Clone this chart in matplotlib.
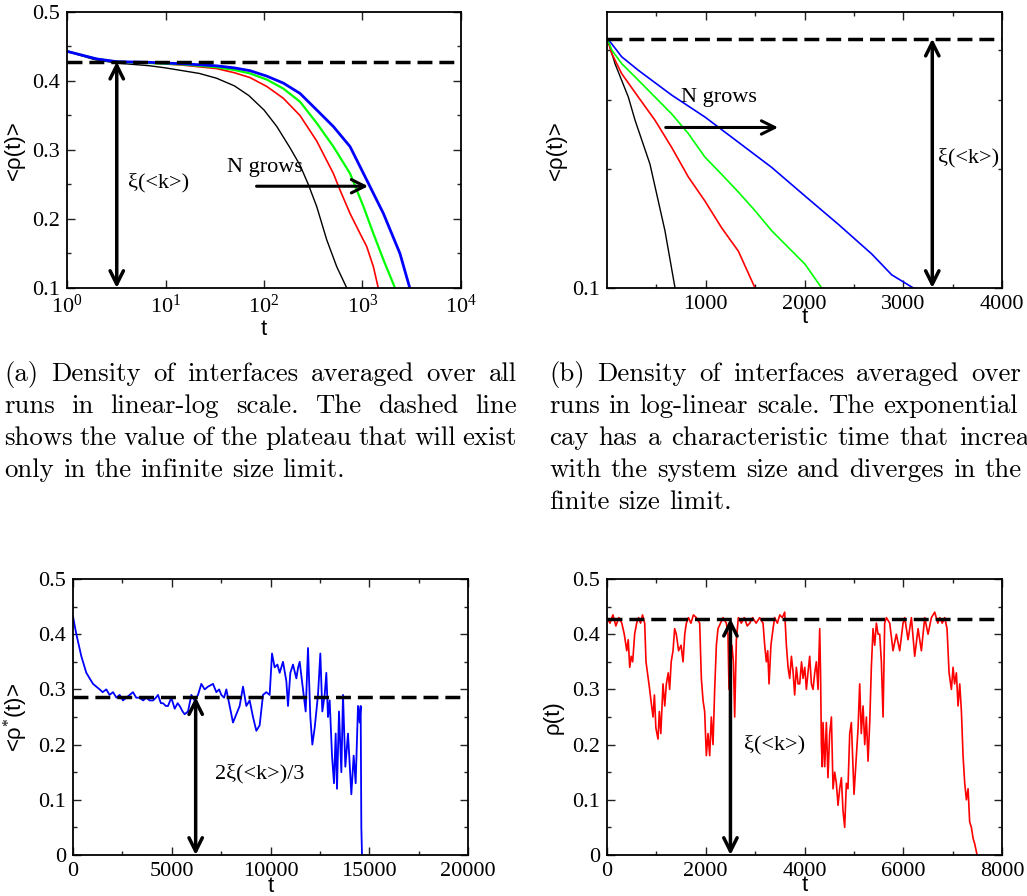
import matplotlib
matplotlib.use('Agg')
import matplotlib.pyplot as plt
from matplotlib.ticker import FixedLocator, NullFormatter, FixedFormatter, MultipleLocator, NullLocator, FuncFormatter

plt.rcParams['font.family'] = 'Liberation Serif'
plt.rcParams['mathtext.fontset'] = 'custom'
plt.rcParams['mathtext.rm'] = 'Liberation Serif'
plt.rcParams['mathtext.it'] = 'Liberation Serif:italic'
plt.rcParams['mathtext.sf'] = 'Liberation Sans'

# ---------------- data (a): averaged density, linear-log view ----------------
ta_black = [1, 1.9, 3.2, 7, 10, 22, 33, 50, 70, 100, 135, 184, 232, 282, 343, 433, 547, 692]
ra_black = [0.443, 0.431, 0.426, 0.422, 0.419, 0.411, 0.404, 0.393, 0.379, 0.358, 0.334, 0.303, 0.278, 0.250, 0.218, 0.170, 0.131, 0.1]

ta_red = [1, 2, 3.2, 7, 15, 33, 50, 72, 107, 157, 232, 343, 506, 591, 747, 944, 1104, 1289, 1446]
ra_red = [0.443, 0.432, 0.428, 0.426, 0.423, 0.418, 0.412, 0.405, 0.392, 0.375, 0.350, 0.313, 0.266, 0.242, 0.208, 0.179, 0.160, 0.131, 0.1]

ta_green = [1, 2, 3.2, 7, 15, 33, 50, 72, 107, 157, 232, 343, 506, 747, 1023, 1289, 1630, 2138]
ra_green = [0.443, 0.432, 0.428, 0.426, 0.424, 0.420, 0.416, 0.411, 0.402, 0.389, 0.370, 0.339, 0.305, 0.266, 0.218, 0.179, 0.141, 0.1]

ta_blue = [1, 2, 3.2, 7, 15, 33, 50, 72, 107, 157, 232, 343, 506, 747, 1104, 1630, 2400, 3020]
ra_blue = [0.443, 0.432, 0.428, 0.427, 0.425, 0.422, 0.419, 0.415, 0.407, 0.397, 0.382, 0.358, 0.334, 0.305, 0.2565, 0.208, 0.150, 0.1]

# ---------------- data (b): averaged density, log-linear view ----------------
tb_black = [1, 81, 216, 284, 435, 587, 689]
rb_black = [0.43, 0.370, 0.3045, 0.266, 0.206, 0.1396, 0.1]

tb_red = [1, 47, 149, 317, 486, 655, 824, 992, 1161, 1330, 1499]
rb_red = [0.43, 0.393, 0.349, 0.3045, 0.266, 0.227, 0.191, 0.166, 0.142, 0.124, 0.1]

tb_green = [1, 50, 149, 317, 486, 655, 824, 992, 1161, 1330, 1499, 1668, 1837, 2005, 2174]
rb_green = [0.43, 0.40, 0.370, 0.336, 0.3045, 0.276, 0.246, 0.2145, 0.194, 0.175, 0.157, 0.1396, 0.1266, 0.1149, 0.1]

tb_blue = [1, 149, 317, 655, 992, 1330, 1668, 2005, 2342, 2680, 2883, 3102]
rb_blue = [0.43, 0.385, 0.356, 0.308, 0.271, 0.234, 0.202, 0.171, 0.145, 0.122, 0.108, 0.1]

plateau = 0.428
plateau_star = 0.286

# ---------------- data (c): surviving-runs average ----------------
t_c = [0, 169, 422, 675, 1013, 1350, 1500, 1688, 1850, 2025,
       2200, 2363, 2530, 2700, 2870, 3038, 3200, 3376, 3550, 3713,
       3880, 4051, 4200, 4304, 4450, 4557, 4700, 4810, 4979,
       5148, 5300, 5401, 5550, 5654, 5823, 5992, 6160, 6329, 6498,
       6667, 6835, 7089, 7257, 7400, 7511, 7650, 7764, 7932, 8101,
       8270, 8439, 8608, 8776, 8945, 9114, 9283, 9451, 9620, 9789,
       9958,
       10076, 10211, 10350, 10464, 10633, 10802, 10886, 11004, 11139, 11308,
       11400, 11477, 11646, 11781, 11899, 12017, 12118, 12236, 12405, 12523,
       12624, 12743, 12827, 12911, 12996, 13114, 13215, 13300, 13367, 13468,
       13587, 13671, 13789, 13924, 14093, 14211, 14312, 14430, 14515, 14565,
       14599, 14633]
rho_c = [.432, .40, .36, .33, .31, .30, .295, .30, .29, .295,
         .285, .29, .28, .285, .29, .295, .285, .285, .28, .285,
         .28, .28, .285, .29, .275, .275, .27, .27, .285,
         .265, .275, .27, .26, .255, .26, .29, .28, .29, .31,
         .30, .305, .31, .295, .30, .29, .285, .30, .27, .24,
         .255, .27, .305, .27, .28, .25, .225, .235, .29, .295,
         .29,
         .365, .34, .345, .33, .35, .315, .27, .33, .345, .32,
         .34, .35, .30, .26, .375, .25, .20, .23, .29, .365,
         .26, .29, .33, .25, .28, .18, .13, .22, .12, .26,
         .15, .29, .16, .22, .11, .18, .13, .27, .24, .27,
         .05, .0]

# ---------------- data (d): single run ----------------
t_d = [0, 60, 120, 180, 240, 300, 350, 400, 430, 460, 490, 520, 560, 600, 640, 680, 720, 763,
       790, 820, 864, 890, 932, 960, 990, 1033, 1060, 1090,
       1134, 1170, 1202, 1240, 1269, 1300, 1337, 1370, 1404, 1450,
       1500, 1540, 1575, 1607, 1650, 1700, 1750, 1810, 1877,
       1911, 1945, 1978, 2012, 2046, 2080, 2113, 2147, 2181, 2215,
       2248, 2300, 2350, 2417, 2450, 2471, 2500, 2530, 2560, 2586,
       2620, 2660,
       2720, 2780, 2840, 2890, 2950, 3020, 3092, 3160, 3194, 3227,
       3255, 3282, 3320, 3363, 3396, 3450, 3500, 3550, 3599,
       3633, 3667, 3700, 3735, 3770, 3801, 3835, 3870, 3903, 3940,
       3970, 4005, 4038, 4070, 4105, 4140, 4173, 4207, 4240, 4274,
       4308, 4325,
       4342, 4360, 4375, 4410, 4443, 4475, 4510, 4545, 4578, 4612,
       4645, 4679, 4713, 4747, 4780, 4814, 4848, 4880, 4916, 4949,
       4983, 5003, 5051, 5085, 5118, 5150, 5186, 5220, 5253, 5287,
       5321, 5354, 5388, 5422, 5456, 5490, 5523, 5557, 5591, 5624,
       5658, 5726, 5793, 5860, 5928, 5996, 6030, 6097, 6165, 6232,
       6300, 6367, 6435, 6502, 6570, 6637, 6700, 6739, 6790, 6840,
       6887,
       6928, 6975, 7009, 7040, 7076, 7110, 7144, 7178, 7211, 7245,
       7279, 7313, 7345, 7380, 7415, 7448, 7495]
rho_d = [.43, .42, .435, .415, .43, .42, .40, .37, .39, .34, .36, .35, .40, .42, .43, .42, .435, .42,
         .35, .33, .30, .28, .25, .29, .23, .21, .26, .22,
         .31, .27, .31, .33, .30, .35, .37, .41, .40, .37,
         .38, .35, .40, .42, .43, .42, .435, .43, .42,
         .32, .28, .26, .18, .22, .18, .25, .20, .30, .38,
         .41, .42, .43, .42, .40, .30, .33, .38, .35, .25,
         .39, .43,
         .42, .43, .415, .42, .43, .42, .43, .42, .38, .35,
         .37, .31, .38, .41, .43, .42, .435, .43, .44,
         .38, .34, .32, .36, .33, .29, .34, .31, .31, .35,
         .32, .34, .30, .33, .36, .31, .30, .33, .35, .30,
         .41, .33,
         .20, .16, .24, .16, .24, .14, .22, .25, .12, .15,
         .13, .09, .12, .14, .08, .05, .13, .12, .22, .24,
         .16, .11, .18, .23, .31, .22, .27, .20, .25, .17,
         .24, .34, .41, .38, .42, .40, .40, .35, .25, .42,
         .43, .42, .37, .40, .37, .42, .43, .39, .43, .36,
         .41, .37, .43, .40, .43, .44, .42, .43, .42, .43,
         .41,
         .33, .30, .34, .31, .33, .27, .31, .26, .18, .13,
         .10, .12, .06, .05, .03, .02, .0]

caption_a = ["(a) Density of interfaces averaged over all",
             "runs in linear-log scale.  The dashed line",
             "shows the value of the plateau that will exist",
             "only in the infinite size limit."]
caption_b = ["(b) Density of interfaces averaged over all",
             "runs in log-linear scale. The exponential de-",
             "cay has a characteristic time that increases",
             "with the system size and diverges in the in-",
             "finite size limit."]

# ---------------- figure ----------------
W, H = 1027, 896
fig = plt.figure(figsize=(W / 100, H / 100), dpi=100)


def box(l, t, r, b):
    return [l / W, 1 - b / H, (r - l) / W, (b - t) / H]


ax_a = fig.add_axes(box(67, 12, 461, 288))
ax_b = fig.add_axes(box(607, 12, 1002, 288))
ax_c = fig.add_axes(box(73, 579, 468, 855))
ax_d = fig.add_axes(box(607, 579, 1002, 855))

TICK = 16
SANS = 'Liberation Sans'


def style(ax):
    ax.tick_params(which='both', direction='in', top=True, right=True,
                   labelsize=TICK, pad=5, color='#222222')
    ax.tick_params(which='major', length=6, width=1.0)
    ax.tick_params(which='minor', length=3, width=1.0)
    for s in ax.spines.values():
        s.set_linewidth(1.3)


def vlabel(ax, text, xfrac):
    ax.set_ylabel(text, fontsize=16, family=SANS)
    ax.yaxis.set_label_coords(xfrac, 0.5)


def tlabel(ax, yfrac):
    ax.set_xlabel('t', fontsize=16, family=SANS)
    ax.xaxis.label.set_va('center')
    ax.xaxis.set_label_coords(0.5, yfrac)


def dashed(ax, y):
    ax.axhline(y, color='k', lw=2.5, dashes=(4.3, 2.0), zorder=3)


def darrow(ax, x, y0, y1):
    ax.annotate('', xy=(x, y1), xytext=(x, y0),
                arrowprops=dict(arrowstyle='<->', lw=2.5, color='k',
                                shrinkA=0, shrinkB=0, mutation_scale=24),
                zorder=4)


def harrow(ax, x0, x1, y):
    ax.annotate('', xy=(x1, y), xytext=(x0, y),
                arrowprops=dict(arrowstyle='->', lw=2.2, color='k',
                                shrinkA=0, shrinkB=0, mutation_scale=24),
                zorder=4)


zero_fmt = FuncFormatter(lambda v, p: '0' if abs(v) < 1e-9 else f'{v:g}')
int_fmt = FuncFormatter(lambda v, p: f'{v:.0f}')

# ----- (a) -----
ax = ax_a
style(ax)
ax.set_xscale('log')
ax.plot(ta_black, ra_black, color='black', lw=1.0)
ax.plot(ta_red, ra_red, color='#ff0000', lw=1.2)
ax.plot(ta_green, ra_green, color='#00ff00', lw=1.6)
ax.plot(ta_blue, ra_blue, color='#0000ff', lw=2.0)
ax.set_xlim(1, 1e4)
ax.set_ylim(0.1, 0.5)
ax.xaxis.set_major_locator(FixedLocator([1, 10, 100, 1000, 10000]))
ax.xaxis.set_major_formatter(FixedFormatter([r'$\mathregular{10^{%d}}$' % k for k in range(5)]))
ax.xaxis.set_minor_locator(NullLocator())
ax.yaxis.set_major_locator(MultipleLocator(0.1))
ax.yaxis.set_minor_locator(MultipleLocator(0.05))
ax.yaxis.set_major_formatter(zero_fmt)
dashed(ax, plateau)
darrow(ax, 3.2, 0.1, plateau)
ax.text(4.2, 0.253, 'ξ(<k>)', fontsize=16, va='center')
ax.text(42, 0.275, 'N grows', fontsize=16, va='center')
harrow(ax, 84, 1140, 0.2475)
vlabel(ax, '<ρ(t)>', -0.107)
tlabel(ax, -0.152)

# ----- (b) -----
ax = ax_b
style(ax)
ax.set_yscale('log')
ax.plot(tb_black, rb_black, color='black', lw=1.0)
ax.plot(tb_red, rb_red, color='#ff0000', lw=1.2)
ax.plot(tb_green, rb_green, color='#00ff00', lw=1.2)
ax.plot(tb_blue, rb_blue, color='#0000ff', lw=1.2)
ax.set_xlim(0, 4000)
ax.set_ylim(0.1, 0.5)
ax.yaxis.set_major_locator(FixedLocator([0.1]))
ax.yaxis.set_major_formatter(FixedFormatter(['0.1']))
ax.yaxis.set_minor_locator(FixedLocator([0.2, 0.3, 0.4]))
ax.yaxis.set_minor_formatter(NullFormatter())
ax.xaxis.set_major_locator(FixedLocator([1000, 2000, 3000, 4000]))
ax.xaxis.set_major_formatter(int_fmt)
ax.xaxis.set_minor_locator(FixedLocator([500, 1500, 2500, 3500]))
dashed(ax, plateau)
darrow(ax, 3294, 0.1, plateau)
ax.text(3355, 0.214, 'ξ(<k>)', fontsize=16, va='center')
ax.text(753, 0.304, 'N grows', fontsize=16, va='center')
harrow(ax, 595, 1733, 0.255)
vlabel(ax, '<ρ(t)>', -0.101)
tlabel(ax, -0.108)

# ----- (c) -----
ax = ax_c
style(ax)
ax.plot(t_c, rho_c, color='#0000ff', lw=1.3)
ax.set_xlim(0, 20000)
ax.set_ylim(0, 0.5)
ax.xaxis.set_major_locator(MultipleLocator(5000))
ax.xaxis.set_minor_locator(MultipleLocator(2500))
ax.xaxis.set_major_formatter(int_fmt)
ax.yaxis.set_major_locator(MultipleLocator(0.1))
ax.yaxis.set_minor_locator(MultipleLocator(0.05))
ax.yaxis.set_major_formatter(zero_fmt)
dashed(ax, plateau_star)
darrow(ax, 6211, 0.0, plateau_star)
ax.text(7173, 0.148, '2ξ(<k>)/3', fontsize=16, va='center')
vlabel(ax, '<ρ$^{*}$(t)>', -0.109)
tlabel(ax, -0.115)

# ----- (d) -----
ax = ax_d
style(ax)
ax.plot(t_d, rho_d, color='#ff0000', lw=1.2)
ax.set_xlim(0, 8000)
ax.set_ylim(0, 0.5)
ax.xaxis.set_major_locator(MultipleLocator(2000))
ax.xaxis.set_minor_locator(MultipleLocator(1000))
ax.xaxis.set_major_formatter(int_fmt)
ax.yaxis.set_major_locator(MultipleLocator(0.1))
ax.yaxis.set_minor_locator(MultipleLocator(0.05))
ax.yaxis.set_major_formatter(zero_fmt)
dashed(ax, plateau)
darrow(ax, 2500, 0.0, plateau)
ax.text(2768, 0.199, 'ξ(<k>)', fontsize=16, va='center')
vlabel(ax, 'ρ(t)', -0.111)
tlabel(ax, -0.112)

# ----- captions (justified, LaTeX-like) -----
CAP = 19.3
renderer = fig.canvas.get_renderer()


def caption(lines, x0, width, base0, step):
    for i, line in enumerate(lines):
        words = line.split()
        yb = 1 - (base0 + i * step) / H
        txts = [fig.text(0, yb, w, fontsize=CAP, family='cmr10', va='baseline')
                for w in words]
        widths = [t.get_window_extent(renderer).width for t in txts]
        last = (i == len(lines) - 1)
        if last or len(words) == 1:
            gap = CAP * 100 / 72 * 0.333
        else:
            gap = (width - sum(widths)) / (len(words) - 1)
        x = x0
        for t, w in zip(txts, widths):
            t.set_x(x / W)
            x += w + gap


caption(caption_a, 4, 513, 381, 32)
caption(caption_b, 549, 513, 381, 32)

fig.savefig('out.png', dpi=100)
